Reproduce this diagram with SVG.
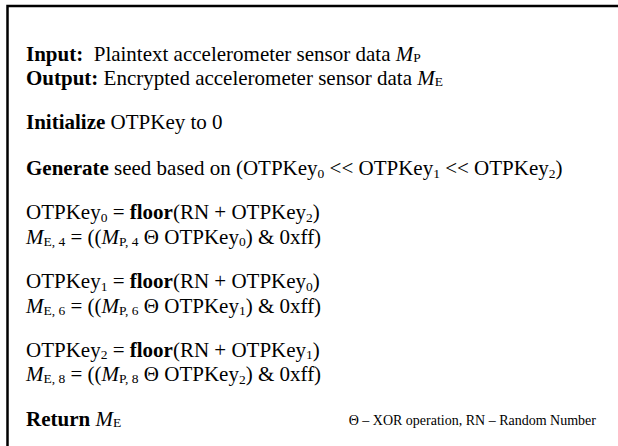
<svg xmlns="http://www.w3.org/2000/svg" width="618" height="446" viewBox="0 0 618 446">
  <style>
    text { font-family: "Liberation Serif", "Times New Roman", serif; font-size: 21px; fill: #000; }
    .b { font-weight: bold; }
    .i { font-style: italic; }
    .s { font-size: 13.5px; }
    .note { font-size: 14px; }
    .frame { stroke: #000; stroke-width: 2.5; fill: none; }
  </style>
  <rect width="618" height="446" fill="#fff"/>
  <!-- open frame: top rule and left rule -->
  <g id="frame">
    <path class="frame" d="M7.5 446 V6 H618"/>
  </g>
  <g id="algorithm">
    <text x="26" y="61"><tspan class="b">Input:</tspan><tspan xml:space="preserve">  Plaintext accelerometer sensor data </tspan><tspan class="i">M</tspan><tspan class="s" dy="1">P</tspan></text>
    <text x="26" y="84.5"><tspan class="b">Output:</tspan> Encrypted accelerometer sensor data <tspan class="i">M</tspan><tspan class="s" dy="1">E</tspan></text>
    <text x="26" y="129"><tspan class="b">Initialize</tspan> OTPKey to 0</text>
    <text x="26" y="175"><tspan class="b">Generate</tspan> seed based on (OTPKey<tspan class="s" dy="3">0</tspan><tspan dy="-3"> &lt;&lt; OTPKey</tspan><tspan class="s" dy="3">1</tspan><tspan dy="-3"> &lt;&lt; OTPKey</tspan><tspan class="s" dy="3">2</tspan><tspan dy="-3">)</tspan></text>

    <!-- key update / encryption pairs -->
    <text x="26" y="219">OTPKey<tspan class="s" dy="2.5">0</tspan><tspan dy="-2.5"> = </tspan><tspan class="b">floor</tspan>(RN + OTPKey<tspan class="s" dy="2.5">2</tspan><tspan dy="-2.5">)</tspan></text>
    <text x="26" y="243.5"><tspan class="i">M</tspan><tspan class="s" dy="2">E, 4</tspan><tspan dy="-2"> = ((</tspan><tspan class="i">M</tspan><tspan class="s" dy="2">P, 4</tspan><tspan dy="-2"> Θ OTPKey</tspan><tspan class="s" dy="2.5">0</tspan><tspan dy="-2.5">) &amp; 0xff)</tspan></text>

    <text x="26" y="288">OTPKey<tspan class="s" dy="2.5">1</tspan><tspan dy="-2.5"> = </tspan><tspan class="b">floor</tspan>(RN + OTPKey<tspan class="s" dy="2.5">0</tspan><tspan dy="-2.5">)</tspan></text>
    <text x="26" y="312.5"><tspan class="i">M</tspan><tspan class="s" dy="2">E, 6</tspan><tspan dy="-2"> = ((</tspan><tspan class="i">M</tspan><tspan class="s" dy="2">P, 6</tspan><tspan dy="-2"> Θ OTPKey</tspan><tspan class="s" dy="2.5">1</tspan><tspan dy="-2.5">) &amp; 0xff)</tspan></text>

    <text x="26" y="356.5">OTPKey<tspan class="s" dy="2.5">2</tspan><tspan dy="-2.5"> = </tspan><tspan class="b">floor</tspan>(RN + OTPKey<tspan class="s" dy="2.5">1</tspan><tspan dy="-2.5">)</tspan></text>
    <text x="26" y="381"><tspan class="i">M</tspan><tspan class="s" dy="2">E, 8</tspan><tspan dy="-2"> = ((</tspan><tspan class="i">M</tspan><tspan class="s" dy="2">P, 8</tspan><tspan dy="-2"> Θ OTPKey</tspan><tspan class="s" dy="2.5">2</tspan><tspan dy="-2.5">) &amp; 0xff)</tspan></text>

    <text x="26" y="426"><tspan class="b">Return</tspan> <tspan class="i">M</tspan><tspan class="s" dy="1">E</tspan></text>
    <text class="note" x="596" y="425" text-anchor="end">Θ – XOR operation, RN – Random Number</text>
  </g>
</svg>
